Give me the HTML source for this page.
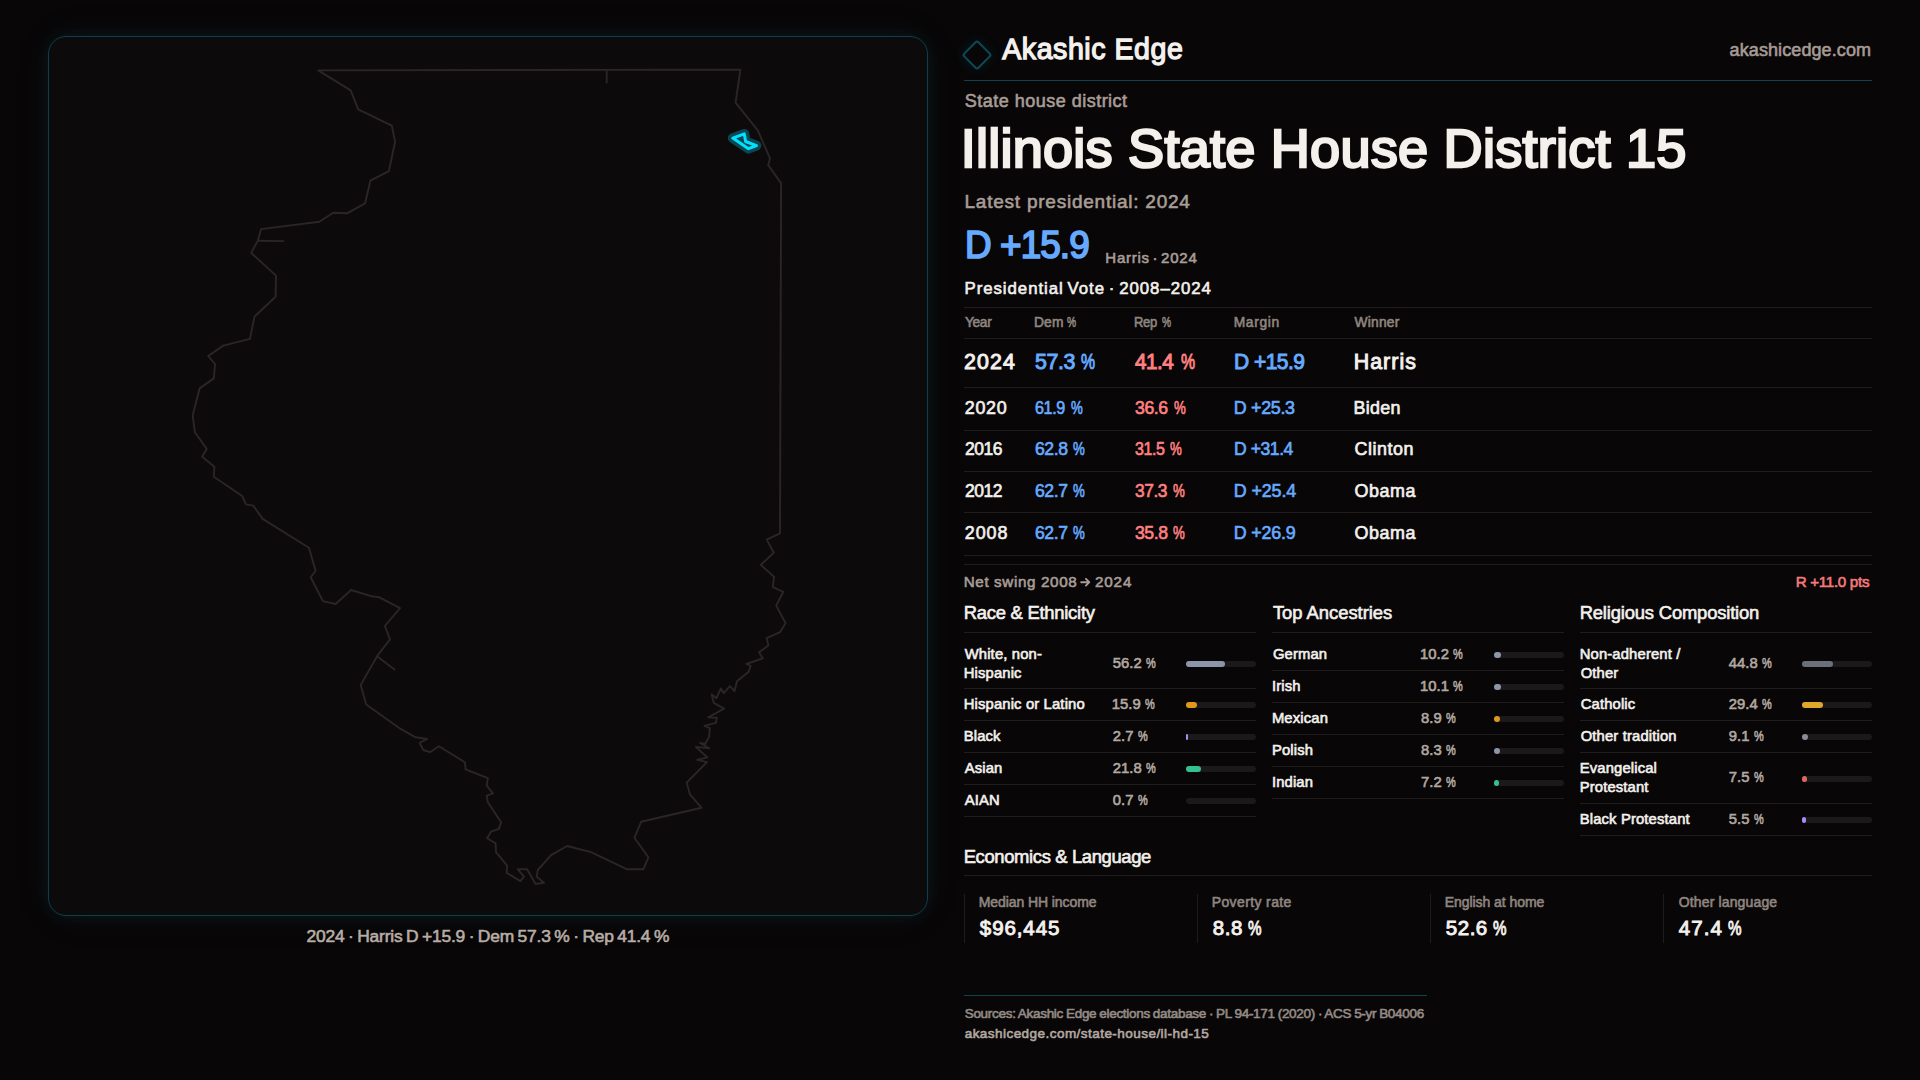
<!DOCTYPE html>
<html><head><meta charset="utf-8"><title>Illinois State House District 15</title>
<style>
html,body{margin:0;padding:0;width:1920px;height:1080px;overflow:hidden;background:#080607;}
body{position:relative;font-family:"Liberation Sans",sans-serif;}
.t{position:absolute;white-space:nowrap;}
.r{position:absolute;}
.panel{position:absolute;left:48px;top:36px;width:880px;height:880px;box-sizing:border-box;border:1px solid #0a414d;border-radius:18px;background:#0c0a0b;box-shadow:0 0 16px rgba(40,170,200,0.10),0 0 40px rgba(90,130,140,0.07);}
.map{position:absolute;left:0;top:0;}
.logo{position:absolute;left:966.3px;top:43.9px;width:22px;height:22px;box-sizing:border-box;border:2px solid #0b4a57;border-radius:3px;transform:rotate(45deg);box-shadow:0 0 14px rgba(0,180,220,0.12);}
</style></head><body>
<div class="panel"></div>
<svg class="map" width="1920" height="1080" viewBox="0 0 1920 1080">
<path d="M318.2 70.4 L740.4 69.6 L735.6 102.7 L757.8 130.4 L770.0 158.4 L768.2 165.1 L781.1 183.3 L780.0 533.3 L766.7 539.6 L773.8 552.7 L760.7 564.9 L774.0 576.7 L772.9 587.1 L783.3 591.8 L776.2 605.6 L785.6 623.3 L780.0 632.2 L766.7 638.2 L768.4 645.4 L759.0 652.3 L762.7 658.4 L746.3 664.0 L750.6 665.9 L748.7 671.7 L737.0 681.2 L734.4 691.2 L729.9 686.0 L723.8 693.1 L720.8 688.6 L716.3 698.3 L711.7 694.4 L713.7 702.8 L724.1 708.7 L708.2 717.4 L716.9 717.7 L716.0 722.9 L704.4 725.8 L709.8 728.1 L709.2 736.5 L705.3 743.7 L700.1 743.0 L709.2 748.2 L695.8 746.9 L707.2 757.3 L697.2 759.9 L707.0 762.1 L686.7 782.7 L690.0 794.4 L701.6 807.8 L641.1 821.8 L634.4 837.8 L648.4 857.3 L643.3 869.3 L627.1 869.3 L591.1 852.2 L567.1 846.0 L551.1 855.1 L537.8 870.0 L536.7 876.7 L544.0 882.7 L535.6 884.0 L527.1 869.3 L517.8 869.3 L524.0 876.7 L520.4 881.1 L506.7 872.9 L507.1 865.6 L496.0 852.2 L495.6 843.3 L487.1 838.2 L491.1 831.6 L498.9 828.9 L501.1 822.2 L487.8 802.2 L486.7 795.6 L492.9 793.3 L486.7 785.6 L487.8 778.2 L465.6 769.3 L464.9 762.2 L438.9 746.2 L430.0 752.2 L423.3 750.0 L419.6 742.9 L427.1 738.9 L415.6 737.3 L398.9 727.8 L366.2 704.4 L360.7 684.9 L377.1 656.2 L390.0 639.3 L384.9 626.0 L400.0 608.2 L378.9 597.1 L371.1 596.2 L351.1 590.0 L335.6 604.0 L322.9 601.1 L310.7 577.3 L315.6 570.7 L308.9 547.8 L262.7 518.9 L253.3 505.6 L246.0 504.4 L242.2 496.0 L213.8 476.7 L214.4 466.7 L202.2 456.7 L206.7 448.9 L194.9 432.2 L192.7 415.6 L199.6 388.4 L213.8 378.4 L215.1 364.0 L208.2 356.0 L223.3 345.6 L250.0 338.9 L254.4 316.7 L275.6 296.7 L276.0 275.6 L251.1 252.9 L257.8 240.7 L261.1 229.1 L319.3 221.8 L333.3 212.7 L347.1 213.3 L365.1 203.3 L370.4 180.7 L388.9 171.1 L395.1 141.8 L391.8 125.6 L358.2 109.3 L350.7 90.4 Z" fill="none" stroke="#2b2625" stroke-width="1.9" stroke-linejoin="round"/>
<path d="M257.8 240.7 L284.0 241.1" fill="none" stroke="#2b2625" stroke-width="1.9"/><path d="M606.7 70.4 L606.7 83.3" fill="none" stroke="#2b2625" stroke-width="1.9"/><path d="M377.1 656.2 L395.1 670.0" fill="none" stroke="#2b2625" stroke-width="1.9"/>
<path d="M732.8 138.1 L744.3 133.9 L745.6 141.5 L756.5 145.6 L748.5 148.7 Z" fill="none" stroke="#0a4552" stroke-width="10" stroke-linejoin="round"/>
<path d="M732.8 138.1 L744.3 133.9 L745.6 141.5 L756.5 145.6 L748.5 148.7 Z" fill="#0a4552" stroke="#00e1ff" stroke-width="3" stroke-linejoin="round"/>
<path d="M1081.2 582.2 H1089.2 M1085.9 578.8 L1089.3 582.2 L1085.9 585.6" fill="none" stroke="#a89d96" stroke-width="1.9" stroke-linecap="round" stroke-linejoin="round"/>
</svg>
<div class="logo"></div>
<div class="r" style="left:964px;top:80px;width:908px;height:1px;background:#0c4450"></div>
<div class="r" style="left:964px;top:307px;width:908px;height:1px;background:#1f1c1d"></div><div class="r" style="left:964px;top:338px;width:908px;height:1px;background:#1f1c1d"></div><div class="r" style="left:964px;top:387px;width:908px;height:1px;background:#1f1c1d"></div><div class="r" style="left:964px;top:430px;width:908px;height:1px;background:#1f1c1d"></div><div class="r" style="left:964px;top:471px;width:908px;height:1px;background:#1f1c1d"></div><div class="r" style="left:964px;top:512px;width:908px;height:1px;background:#1f1c1d"></div><div class="r" style="left:964px;top:555px;width:908px;height:1px;background:#1f1c1d"></div><div class="r" style="left:964px;top:564px;width:908px;height:1px;background:#1f1c1d"></div>
<div class="r" style="left:964.00px;top:632.00px;width:292.00px;height:1.00px;background:#1f1c1d;border-radius:0px"></div><div class="r" style="left:1186.00px;top:660.90px;width:70.00px;height:6.00px;background:#1b191a;border-radius:3px"></div><div class="r" style="left:1186.00px;top:660.90px;width:39.34px;height:6.00px;background:#8c96a8;border-radius:3px"></div><div class="r" style="left:964.00px;top:688.00px;width:292.00px;height:1.00px;background:#1f1c1d;border-radius:0px"></div><div class="r" style="left:1186.00px;top:702.20px;width:70.00px;height:6.00px;background:#1b191a;border-radius:3px"></div><div class="r" style="left:1186.00px;top:702.20px;width:11.13px;height:6.00px;background:#e0981c;border-radius:3px"></div><div class="r" style="left:964.00px;top:720.00px;width:292.00px;height:1.00px;background:#1f1c1d;border-radius:0px"></div><div class="r" style="left:1186.00px;top:734.20px;width:70.00px;height:6.00px;background:#1b191a;border-radius:3px"></div><div class="r" style="left:1186.00px;top:734.20px;width:1.89px;height:6.00px;background:#a58cff;border-radius:3px"></div><div class="r" style="left:964.00px;top:752.00px;width:292.00px;height:1.00px;background:#1f1c1d;border-radius:0px"></div><div class="r" style="left:1186.00px;top:766.20px;width:70.00px;height:6.00px;background:#1b191a;border-radius:3px"></div><div class="r" style="left:1186.00px;top:766.20px;width:15.26px;height:6.00px;background:#35c090;border-radius:3px"></div><div class="r" style="left:964.00px;top:784.00px;width:292.00px;height:1.00px;background:#1f1c1d;border-radius:0px"></div><div class="r" style="left:1186.00px;top:798.20px;width:70.00px;height:6.00px;background:#1b191a;border-radius:3px"></div><div class="r" style="left:964.00px;top:816.00px;width:292.00px;height:1.00px;background:#1f1c1d;border-radius:0px"></div><div class="r" style="left:1272.20px;top:632.00px;width:292.00px;height:1.00px;background:#1f1c1d;border-radius:0px"></div><div class="r" style="left:1494.20px;top:651.60px;width:70.00px;height:6.00px;background:#1b191a;border-radius:3px"></div><div class="r" style="left:1494.20px;top:651.60px;width:7.14px;height:6.00px;background:#8c96a8;border-radius:3px"></div><div class="r" style="left:1272.20px;top:670.00px;width:292.00px;height:1.00px;background:#1f1c1d;border-radius:0px"></div><div class="r" style="left:1494.20px;top:683.60px;width:70.00px;height:6.00px;background:#1b191a;border-radius:3px"></div><div class="r" style="left:1494.20px;top:683.60px;width:7.07px;height:6.00px;background:#8c96a8;border-radius:3px"></div><div class="r" style="left:1272.20px;top:702.00px;width:292.00px;height:1.00px;background:#1f1c1d;border-radius:0px"></div><div class="r" style="left:1494.20px;top:715.60px;width:70.00px;height:6.00px;background:#1b191a;border-radius:3px"></div><div class="r" style="left:1494.20px;top:715.60px;width:6.23px;height:6.00px;background:#e0981c;border-radius:3px"></div><div class="r" style="left:1272.20px;top:734.00px;width:292.00px;height:1.00px;background:#1f1c1d;border-radius:0px"></div><div class="r" style="left:1494.20px;top:747.60px;width:70.00px;height:6.00px;background:#1b191a;border-radius:3px"></div><div class="r" style="left:1494.20px;top:747.60px;width:5.81px;height:6.00px;background:#8c96a8;border-radius:3px"></div><div class="r" style="left:1272.20px;top:766.00px;width:292.00px;height:1.00px;background:#1f1c1d;border-radius:0px"></div><div class="r" style="left:1494.20px;top:779.60px;width:70.00px;height:6.00px;background:#1b191a;border-radius:3px"></div><div class="r" style="left:1494.20px;top:779.60px;width:5.04px;height:6.00px;background:#35c090;border-radius:3px"></div><div class="r" style="left:1272.20px;top:798.00px;width:292.00px;height:1.00px;background:#1f1c1d;border-radius:0px"></div><div class="r" style="left:1580.00px;top:632.00px;width:292.00px;height:1.00px;background:#1f1c1d;border-radius:0px"></div><div class="r" style="left:1802.00px;top:660.90px;width:70.00px;height:6.00px;background:#1b191a;border-radius:3px"></div><div class="r" style="left:1802.00px;top:660.90px;width:31.36px;height:6.00px;background:#6b6f7a;border-radius:3px"></div><div class="r" style="left:1580.00px;top:688.00px;width:292.00px;height:1.00px;background:#1f1c1d;border-radius:0px"></div><div class="r" style="left:1802.00px;top:702.20px;width:70.00px;height:6.00px;background:#1b191a;border-radius:3px"></div><div class="r" style="left:1802.00px;top:702.20px;width:20.58px;height:6.00px;background:#e0a82a;border-radius:3px"></div><div class="r" style="left:1580.00px;top:720.00px;width:292.00px;height:1.00px;background:#1f1c1d;border-radius:0px"></div><div class="r" style="left:1802.00px;top:734.20px;width:70.00px;height:6.00px;background:#1b191a;border-radius:3px"></div><div class="r" style="left:1802.00px;top:734.20px;width:6.37px;height:6.00px;background:#8a8d96;border-radius:3px"></div><div class="r" style="left:1580.00px;top:752.00px;width:292.00px;height:1.00px;background:#1f1c1d;border-radius:0px"></div><div class="r" style="left:1802.00px;top:775.50px;width:70.00px;height:6.00px;background:#1b191a;border-radius:3px"></div><div class="r" style="left:1802.00px;top:775.50px;width:5.25px;height:6.00px;background:#e06666;border-radius:3px"></div><div class="r" style="left:1580.00px;top:803.00px;width:292.00px;height:1.00px;background:#1f1c1d;border-radius:0px"></div><div class="r" style="left:1802.00px;top:816.80px;width:70.00px;height:6.00px;background:#1b191a;border-radius:3px"></div><div class="r" style="left:1802.00px;top:816.80px;width:3.85px;height:6.00px;background:#a58cff;border-radius:3px"></div><div class="r" style="left:1580.00px;top:835.00px;width:292.00px;height:1.00px;background:#1f1c1d;border-radius:0px"></div><div class="r" style="left:964.00px;top:875.00px;width:908.00px;height:1.00px;background:#1f1c1d;border-radius:0px"></div><div class="r" style="left:964.00px;top:894.00px;width:1.00px;height:48.50px;background:#1f1c1d;border-radius:0px"></div><div class="r" style="left:1197.00px;top:894.00px;width:1.00px;height:48.50px;background:#1f1c1d;border-radius:0px"></div><div class="r" style="left:1430.00px;top:894.00px;width:1.00px;height:48.50px;background:#1f1c1d;border-radius:0px"></div><div class="r" style="left:1663.00px;top:894.00px;width:1.00px;height:48.50px;background:#1f1c1d;border-radius:0px"></div><div class="r" style="left:964.00px;top:995.00px;width:462.60px;height:1.00px;background:#0c4450;border-radius:0px"></div>
<div class="t" style="left:1002.25px;top:35px;font-size:28.57px;line-height:28.57px;font-weight:400;color:#f4f1ed;letter-spacing:0.540px;-webkit-text-stroke:1.29px #f4f1ed;">Akashic Edge</div><div class="t" style="left:1729.60px;top:41px;font-size:18px;line-height:18px;font-weight:400;color:#a69b94;letter-spacing:0.094px;-webkit-text-stroke:0.60px #a69b94;">akashicedge.com</div><div class="t" style="left:964.70px;top:92px;font-size:18px;line-height:18px;font-weight:400;color:#a89d96;letter-spacing:0.491px;-webkit-text-stroke:0.60px #a89d96;">State house district</div><div class="t" style="left:960.72px;top:121px;font-size:54.15px;line-height:54.15px;font-weight:400;color:#f4f1ed;letter-spacing:0.210px;-webkit-text-stroke:2.44px #f4f1ed;">Illinois State House District 15</div><div class="t" style="left:964.50px;top:192px;font-size:19px;line-height:19px;font-weight:400;color:#a89d96;letter-spacing:0.764px;-webkit-text-stroke:0.60px #a89d96;">Latest presidential: 2024</div><div class="t" style="left:964.87px;top:226px;font-size:38.64px;line-height:38.64px;font-weight:400;color:#66aaff;letter-spacing:-0.966px;-webkit-text-stroke:1.74px #66aaff;transform:scaleX(0.9553);transform-origin:0 0;">D +15.9</div><div class="t" style="left:1105.30px;top:250px;font-size:15px;line-height:15px;font-weight:400;color:#a89d96;letter-spacing:0.762px;-webkit-text-stroke:0.60px #a89d96;word-spacing:-2.20px;">Harris · 2024</div><div class="t" style="left:964.50px;top:281px;font-size:16.8px;line-height:16.8px;font-weight:400;color:#f4f1ed;letter-spacing:0.964px;-webkit-text-stroke:0.60px #f4f1ed;word-spacing:-1.80px;">Presidential Vote · 2008–2024</div><div class="t" style="left:964.70px;top:316px;font-size:13.8px;line-height:13.8px;font-weight:400;color:#8f857f;letter-spacing:-0.345px;-webkit-text-stroke:0.60px #8f857f;transform:scaleX(0.9947);transform-origin:0 0;">Year</div><div class="t" style="left:1033.90px;top:316px;font-size:13.8px;line-height:13.8px;font-weight:400;color:#8f857f;letter-spacing:0.229px;-webkit-text-stroke:0.60px #8f857f;">Dem</div><div class="t" style="left:1067.24px;top:316px;font-size:13.8px;line-height:13.8px;font-weight:400;color:#8f857f;letter-spacing:0.000px;-webkit-text-stroke:0.60px #8f857f;transform:scaleX(0.7400);transform-origin:0 0;">%</div><div class="t" style="left:1134.04px;top:316px;font-size:13.8px;line-height:13.8px;font-weight:400;color:#8f857f;letter-spacing:-0.345px;-webkit-text-stroke:0.60px #8f857f;transform:scaleX(0.9408);transform-origin:0 0;">Rep</div><div class="t" style="left:1161.74px;top:316px;font-size:13.8px;line-height:13.8px;font-weight:400;color:#8f857f;letter-spacing:0.000px;-webkit-text-stroke:0.60px #8f857f;transform:scaleX(0.7400);transform-origin:0 0;">%</div><div class="t" style="left:1233.70px;top:316px;font-size:13.8px;line-height:13.8px;font-weight:400;color:#8f857f;letter-spacing:0.680px;-webkit-text-stroke:0.60px #8f857f;">Margin</div><div class="t" style="left:1354.50px;top:316px;font-size:13.8px;line-height:13.8px;font-weight:400;color:#8f857f;letter-spacing:0.219px;-webkit-text-stroke:0.60px #8f857f;">Winner</div><div class="t" style="left:963.88px;top:352px;font-size:21.36px;line-height:21.36px;font-weight:400;color:#f4f1ed;letter-spacing:1.168px;-webkit-text-stroke:0.96px #f4f1ed;">2024</div><div class="t" style="left:1035.08px;top:352px;font-size:21.4px;line-height:21.4px;font-weight:400;color:#66aaff;letter-spacing:-0.445px;-webkit-text-stroke:0.96px #66aaff;">57.3</div><div class="t" style="left:1081.10px;top:352px;font-size:21.4px;line-height:21.4px;font-weight:400;color:#66aaff;letter-spacing:0.000px;-webkit-text-stroke:0.96px #66aaff;transform:scaleX(0.7400);transform-origin:0 0;">%</div><div class="t" style="left:1135.16px;top:352px;font-size:21.4px;line-height:21.4px;font-weight:400;color:#ff8080;letter-spacing:-0.535px;-webkit-text-stroke:0.96px #ff8080;transform:scaleX(0.9652);transform-origin:0 0;">41.4</div><div class="t" style="left:1180.50px;top:352px;font-size:21.4px;line-height:21.4px;font-weight:400;color:#ff8080;letter-spacing:0.000px;-webkit-text-stroke:0.96px #ff8080;transform:scaleX(0.7400);transform-origin:0 0;">%</div><div class="t" style="left:1233.89px;top:352px;font-size:21.36px;line-height:21.36px;font-weight:400;color:#66aaff;letter-spacing:-0.534px;-webkit-text-stroke:0.96px #66aaff;transform:scaleX(0.9820);transform-origin:0 0;">D +15.9</div><div class="t" style="left:1353.68px;top:352px;font-size:21.36px;line-height:21.36px;font-weight:400;color:#f4f1ed;letter-spacing:1.073px;-webkit-text-stroke:0.96px #f4f1ed;">Harris</div><div class="t" style="left:964.73px;top:400px;font-size:17.9px;line-height:17.9px;font-weight:400;color:#f4f1ed;letter-spacing:0.733px;-webkit-text-stroke:0.65px #f4f1ed;">2020</div><div class="t" style="left:1034.89px;top:400px;font-size:17.9px;line-height:17.9px;font-weight:400;color:#66aaff;letter-spacing:-0.448px;-webkit-text-stroke:0.65px #66aaff;transform:scaleX(0.9020);transform-origin:0 0;">61.9</div><div class="t" style="left:1070.50px;top:400px;font-size:17.9px;line-height:17.9px;font-weight:400;color:#66aaff;letter-spacing:0.000px;-webkit-text-stroke:0.65px #66aaff;transform:scaleX(0.7400);transform-origin:0 0;">%</div><div class="t" style="left:1135.02px;top:400px;font-size:17.9px;line-height:17.9px;font-weight:400;color:#ff8080;letter-spacing:-0.448px;-webkit-text-stroke:0.65px #ff8080;transform:scaleX(0.9868);transform-origin:0 0;">36.6</div><div class="t" style="left:1173.50px;top:400px;font-size:17.9px;line-height:17.9px;font-weight:400;color:#ff8080;letter-spacing:0.000px;-webkit-text-stroke:0.65px #ff8080;transform:scaleX(0.7400);transform-origin:0 0;">%</div><div class="t" style="left:1233.73px;top:400px;font-size:17.9px;line-height:17.9px;font-weight:400;color:#66aaff;letter-spacing:-0.310px;-webkit-text-stroke:0.65px #66aaff;">D +25.3</div><div class="t" style="left:1353.53px;top:400px;font-size:17.9px;line-height:17.9px;font-weight:400;color:#f4f1ed;letter-spacing:0.311px;-webkit-text-stroke:0.65px #f4f1ed;">Biden</div><div class="t" style="left:964.72px;top:441px;font-size:17.9px;line-height:17.9px;font-weight:400;color:#f4f1ed;letter-spacing:-0.448px;-webkit-text-stroke:0.65px #f4f1ed;transform:scaleX(0.9756);transform-origin:0 0;">2016</div><div class="t" style="left:1034.92px;top:441px;font-size:17.9px;line-height:17.9px;font-weight:400;color:#66aaff;letter-spacing:-0.448px;-webkit-text-stroke:0.65px #66aaff;transform:scaleX(0.9839);transform-origin:0 0;">62.8</div><div class="t" style="left:1073.30px;top:441px;font-size:17.9px;line-height:17.9px;font-weight:400;color:#66aaff;letter-spacing:0.000px;-webkit-text-stroke:0.65px #66aaff;transform:scaleX(0.7400);transform-origin:0 0;">%</div><div class="t" style="left:1134.99px;top:441px;font-size:17.9px;line-height:17.9px;font-weight:400;color:#ff8080;letter-spacing:-0.448px;-webkit-text-stroke:0.65px #ff8080;transform:scaleX(0.8932);transform-origin:0 0;">31.5</div><div class="t" style="left:1170.30px;top:441px;font-size:17.9px;line-height:17.9px;font-weight:400;color:#ff8080;letter-spacing:0.000px;-webkit-text-stroke:0.65px #ff8080;transform:scaleX(0.7400);transform-origin:0 0;">%</div><div class="t" style="left:1233.74px;top:441px;font-size:17.9px;line-height:17.9px;font-weight:400;color:#66aaff;letter-spacing:-0.448px;-webkit-text-stroke:0.65px #66aaff;transform:scaleX(0.9822);transform-origin:0 0;">D +31.4</div><div class="t" style="left:1354.53px;top:441px;font-size:17.9px;line-height:17.9px;font-weight:400;color:#f4f1ed;letter-spacing:0.535px;-webkit-text-stroke:0.65px #f4f1ed;">Clinton</div><div class="t" style="left:964.72px;top:483px;font-size:17.9px;line-height:17.9px;font-weight:400;color:#f4f1ed;letter-spacing:-0.448px;-webkit-text-stroke:0.65px #f4f1ed;transform:scaleX(0.9756);transform-origin:0 0;">2012</div><div class="t" style="left:1034.92px;top:483px;font-size:17.9px;line-height:17.9px;font-weight:400;color:#66aaff;letter-spacing:-0.448px;-webkit-text-stroke:0.65px #66aaff;transform:scaleX(0.9839);transform-origin:0 0;">62.7</div><div class="t" style="left:1073.30px;top:483px;font-size:17.9px;line-height:17.9px;font-weight:400;color:#66aaff;letter-spacing:0.000px;-webkit-text-stroke:0.65px #66aaff;transform:scaleX(0.7400);transform-origin:0 0;">%</div><div class="t" style="left:1135.02px;top:483px;font-size:17.9px;line-height:17.9px;font-weight:400;color:#ff8080;letter-spacing:-0.448px;-webkit-text-stroke:0.65px #ff8080;transform:scaleX(0.9693);transform-origin:0 0;">37.3</div><div class="t" style="left:1172.90px;top:483px;font-size:17.9px;line-height:17.9px;font-weight:400;color:#ff8080;letter-spacing:0.000px;-webkit-text-stroke:0.65px #ff8080;transform:scaleX(0.7400);transform-origin:0 0;">%</div><div class="t" style="left:1233.73px;top:483px;font-size:17.9px;line-height:17.9px;font-weight:400;color:#66aaff;letter-spacing:-0.110px;-webkit-text-stroke:0.65px #66aaff;">D +25.4</div><div class="t" style="left:1354.53px;top:483px;font-size:17.9px;line-height:17.9px;font-weight:400;color:#f4f1ed;letter-spacing:0.583px;-webkit-text-stroke:0.65px #f4f1ed;">Obama</div><div class="t" style="left:964.73px;top:525px;font-size:17.9px;line-height:17.9px;font-weight:400;color:#f4f1ed;letter-spacing:0.967px;-webkit-text-stroke:0.65px #f4f1ed;">2008</div><div class="t" style="left:1034.92px;top:525px;font-size:17.9px;line-height:17.9px;font-weight:400;color:#66aaff;letter-spacing:-0.448px;-webkit-text-stroke:0.65px #66aaff;transform:scaleX(0.9839);transform-origin:0 0;">62.7</div><div class="t" style="left:1073.30px;top:525px;font-size:17.9px;line-height:17.9px;font-weight:400;color:#66aaff;letter-spacing:0.000px;-webkit-text-stroke:0.65px #66aaff;transform:scaleX(0.7400);transform-origin:0 0;">%</div><div class="t" style="left:1135.02px;top:525px;font-size:17.9px;line-height:17.9px;font-weight:400;color:#ff8080;letter-spacing:-0.448px;-webkit-text-stroke:0.65px #ff8080;transform:scaleX(0.9839);transform-origin:0 0;">35.8</div><div class="t" style="left:1173.40px;top:525px;font-size:17.9px;line-height:17.9px;font-weight:400;color:#ff8080;letter-spacing:0.000px;-webkit-text-stroke:0.65px #ff8080;transform:scaleX(0.7400);transform-origin:0 0;">%</div><div class="t" style="left:1233.73px;top:525px;font-size:17.9px;line-height:17.9px;font-weight:400;color:#66aaff;letter-spacing:-0.193px;-webkit-text-stroke:0.65px #66aaff;">D +26.9</div><div class="t" style="left:1354.53px;top:525px;font-size:17.9px;line-height:17.9px;font-weight:400;color:#f4f1ed;letter-spacing:0.583px;-webkit-text-stroke:0.65px #f4f1ed;">Obama</div><div class="t" style="left:963.70px;top:574px;font-size:15.2px;line-height:15.2px;font-weight:400;color:#a89d96;letter-spacing:0.643px;-webkit-text-stroke:0.60px #a89d96;">Net swing 2008</div><div class="t" style="left:1094.90px;top:574px;font-size:15.2px;line-height:15.2px;font-weight:400;color:#a89d96;letter-spacing:0.920px;-webkit-text-stroke:0.60px #a89d96;">2024</div><div class="t" style="left:1795.70px;top:574px;font-size:15.2px;line-height:15.2px;font-weight:400;color:#f47a7a;letter-spacing:-0.317px;-webkit-text-stroke:0.60px #f47a7a;">R +11.0 pts</div><div class="t" style="left:963.70px;top:604px;font-size:18.4px;line-height:18.4px;font-weight:400;color:#f4f1ed;letter-spacing:-0.242px;-webkit-text-stroke:0.60px #f4f1ed;">Race &amp; Ethnicity</div><div class="t" style="left:964.70px;top:647px;font-size:14.8px;line-height:14.8px;font-weight:400;color:#f4f1ed;letter-spacing:0.150px;-webkit-text-stroke:0.60px #f4f1ed;">White, non-</div><div class="t" style="left:963.70px;top:666px;font-size:14.8px;line-height:14.8px;font-weight:400;color:#f4f1ed;letter-spacing:0.150px;-webkit-text-stroke:0.60px #f4f1ed;">Hispanic</div><div class="t" style="left:1112.70px;top:656px;font-size:14.8px;line-height:14.8px;font-weight:400;color:#b3a8a1;letter-spacing:0.100px;-webkit-text-stroke:0.60px #b3a8a1;">56.2</div><div class="t" style="left:1146.09px;top:656px;font-size:14.8px;line-height:14.8px;font-weight:400;color:#b3a8a1;letter-spacing:0.000px;-webkit-text-stroke:0.60px #b3a8a1;transform:scaleX(0.7400);transform-origin:0 0;">%</div><div class="t" style="left:963.70px;top:697px;font-size:14.8px;line-height:14.8px;font-weight:400;color:#f4f1ed;letter-spacing:0.150px;-webkit-text-stroke:0.60px #f4f1ed;">Hispanic or Latino</div><div class="t" style="left:1111.70px;top:697px;font-size:14.8px;line-height:14.8px;font-weight:400;color:#b3a8a1;letter-spacing:0.100px;-webkit-text-stroke:0.60px #b3a8a1;">15.9</div><div class="t" style="left:1145.09px;top:697px;font-size:14.8px;line-height:14.8px;font-weight:400;color:#b3a8a1;letter-spacing:0.000px;-webkit-text-stroke:0.60px #b3a8a1;transform:scaleX(0.7400);transform-origin:0 0;">%</div><div class="t" style="left:963.70px;top:729px;font-size:14.8px;line-height:14.8px;font-weight:400;color:#f4f1ed;letter-spacing:0.150px;-webkit-text-stroke:0.60px #f4f1ed;">Black</div><div class="t" style="left:1112.70px;top:729px;font-size:14.8px;line-height:14.8px;font-weight:400;color:#b3a8a1;letter-spacing:0.100px;-webkit-text-stroke:0.60px #b3a8a1;">2.7</div><div class="t" style="left:1137.76px;top:729px;font-size:14.8px;line-height:14.8px;font-weight:400;color:#b3a8a1;letter-spacing:0.000px;-webkit-text-stroke:0.60px #b3a8a1;transform:scaleX(0.7400);transform-origin:0 0;">%</div><div class="t" style="left:964.70px;top:761px;font-size:14.8px;line-height:14.8px;font-weight:400;color:#f4f1ed;letter-spacing:0.150px;-webkit-text-stroke:0.60px #f4f1ed;">Asian</div><div class="t" style="left:1112.70px;top:761px;font-size:14.8px;line-height:14.8px;font-weight:400;color:#b3a8a1;letter-spacing:0.100px;-webkit-text-stroke:0.60px #b3a8a1;">21.8</div><div class="t" style="left:1146.09px;top:761px;font-size:14.8px;line-height:14.8px;font-weight:400;color:#b3a8a1;letter-spacing:0.000px;-webkit-text-stroke:0.60px #b3a8a1;transform:scaleX(0.7400);transform-origin:0 0;">%</div><div class="t" style="left:964.70px;top:793px;font-size:14.8px;line-height:14.8px;font-weight:400;color:#f4f1ed;letter-spacing:0.150px;-webkit-text-stroke:0.60px #f4f1ed;">AIAN</div><div class="t" style="left:1112.70px;top:793px;font-size:14.8px;line-height:14.8px;font-weight:400;color:#b3a8a1;letter-spacing:0.100px;-webkit-text-stroke:0.60px #b3a8a1;">0.7</div><div class="t" style="left:1137.76px;top:793px;font-size:14.8px;line-height:14.8px;font-weight:400;color:#b3a8a1;letter-spacing:0.000px;-webkit-text-stroke:0.60px #b3a8a1;transform:scaleX(0.7400);transform-origin:0 0;">%</div><div class="t" style="left:1272.90px;top:604px;font-size:18.4px;line-height:18.4px;font-weight:400;color:#f4f1ed;letter-spacing:-0.017px;-webkit-text-stroke:0.60px #f4f1ed;">Top Ancestries</div><div class="t" style="left:1272.90px;top:647px;font-size:14.8px;line-height:14.8px;font-weight:400;color:#f4f1ed;letter-spacing:0.150px;-webkit-text-stroke:0.60px #f4f1ed;">German</div><div class="t" style="left:1419.90px;top:647px;font-size:14.8px;line-height:14.8px;font-weight:400;color:#b3a8a1;letter-spacing:0.100px;-webkit-text-stroke:0.60px #b3a8a1;">10.2</div><div class="t" style="left:1453.29px;top:647px;font-size:14.8px;line-height:14.8px;font-weight:400;color:#b3a8a1;letter-spacing:0.000px;-webkit-text-stroke:0.60px #b3a8a1;transform:scaleX(0.7400);transform-origin:0 0;">%</div><div class="t" style="left:1271.90px;top:679px;font-size:14.8px;line-height:14.8px;font-weight:400;color:#f4f1ed;letter-spacing:0.150px;-webkit-text-stroke:0.60px #f4f1ed;">Irish</div><div class="t" style="left:1419.90px;top:679px;font-size:14.8px;line-height:14.8px;font-weight:400;color:#b3a8a1;letter-spacing:0.100px;-webkit-text-stroke:0.60px #b3a8a1;">10.1</div><div class="t" style="left:1453.29px;top:679px;font-size:14.8px;line-height:14.8px;font-weight:400;color:#b3a8a1;letter-spacing:0.000px;-webkit-text-stroke:0.60px #b3a8a1;transform:scaleX(0.7400);transform-origin:0 0;">%</div><div class="t" style="left:1271.90px;top:711px;font-size:14.8px;line-height:14.8px;font-weight:400;color:#f4f1ed;letter-spacing:0.150px;-webkit-text-stroke:0.60px #f4f1ed;">Mexican</div><div class="t" style="left:1420.90px;top:711px;font-size:14.8px;line-height:14.8px;font-weight:400;color:#b3a8a1;letter-spacing:0.100px;-webkit-text-stroke:0.60px #b3a8a1;">8.9</div><div class="t" style="left:1445.96px;top:711px;font-size:14.8px;line-height:14.8px;font-weight:400;color:#b3a8a1;letter-spacing:0.000px;-webkit-text-stroke:0.60px #b3a8a1;transform:scaleX(0.7400);transform-origin:0 0;">%</div><div class="t" style="left:1271.90px;top:743px;font-size:14.8px;line-height:14.8px;font-weight:400;color:#f4f1ed;letter-spacing:0.150px;-webkit-text-stroke:0.60px #f4f1ed;">Polish</div><div class="t" style="left:1420.90px;top:743px;font-size:14.8px;line-height:14.8px;font-weight:400;color:#b3a8a1;letter-spacing:0.100px;-webkit-text-stroke:0.60px #b3a8a1;">8.3</div><div class="t" style="left:1445.96px;top:743px;font-size:14.8px;line-height:14.8px;font-weight:400;color:#b3a8a1;letter-spacing:0.000px;-webkit-text-stroke:0.60px #b3a8a1;transform:scaleX(0.7400);transform-origin:0 0;">%</div><div class="t" style="left:1271.90px;top:775px;font-size:14.8px;line-height:14.8px;font-weight:400;color:#f4f1ed;letter-spacing:0.150px;-webkit-text-stroke:0.60px #f4f1ed;">Indian</div><div class="t" style="left:1420.90px;top:775px;font-size:14.8px;line-height:14.8px;font-weight:400;color:#b3a8a1;letter-spacing:0.100px;-webkit-text-stroke:0.60px #b3a8a1;">7.2</div><div class="t" style="left:1445.96px;top:775px;font-size:14.8px;line-height:14.8px;font-weight:400;color:#b3a8a1;letter-spacing:0.000px;-webkit-text-stroke:0.60px #b3a8a1;transform:scaleX(0.7400);transform-origin:0 0;">%</div><div class="t" style="left:1579.70px;top:604px;font-size:18.4px;line-height:18.4px;font-weight:400;color:#f4f1ed;letter-spacing:-0.167px;-webkit-text-stroke:0.60px #f4f1ed;">Religious Composition</div><div class="t" style="left:1579.70px;top:647px;font-size:14.8px;line-height:14.8px;font-weight:400;color:#f4f1ed;letter-spacing:0.150px;-webkit-text-stroke:0.60px #f4f1ed;">Non-adherent /</div><div class="t" style="left:1580.70px;top:666px;font-size:14.8px;line-height:14.8px;font-weight:400;color:#f4f1ed;letter-spacing:0.150px;-webkit-text-stroke:0.60px #f4f1ed;">Other</div><div class="t" style="left:1728.70px;top:656px;font-size:14.8px;line-height:14.8px;font-weight:400;color:#b3a8a1;letter-spacing:0.100px;-webkit-text-stroke:0.60px #b3a8a1;">44.8</div><div class="t" style="left:1762.09px;top:656px;font-size:14.8px;line-height:14.8px;font-weight:400;color:#b3a8a1;letter-spacing:0.000px;-webkit-text-stroke:0.60px #b3a8a1;transform:scaleX(0.7400);transform-origin:0 0;">%</div><div class="t" style="left:1580.70px;top:697px;font-size:14.8px;line-height:14.8px;font-weight:400;color:#f4f1ed;letter-spacing:0.150px;-webkit-text-stroke:0.60px #f4f1ed;">Catholic</div><div class="t" style="left:1728.70px;top:697px;font-size:14.8px;line-height:14.8px;font-weight:400;color:#b3a8a1;letter-spacing:0.100px;-webkit-text-stroke:0.60px #b3a8a1;">29.4</div><div class="t" style="left:1762.09px;top:697px;font-size:14.8px;line-height:14.8px;font-weight:400;color:#b3a8a1;letter-spacing:0.000px;-webkit-text-stroke:0.60px #b3a8a1;transform:scaleX(0.7400);transform-origin:0 0;">%</div><div class="t" style="left:1580.70px;top:729px;font-size:14.8px;line-height:14.8px;font-weight:400;color:#f4f1ed;letter-spacing:0.150px;-webkit-text-stroke:0.60px #f4f1ed;">Other tradition</div><div class="t" style="left:1728.70px;top:729px;font-size:14.8px;line-height:14.8px;font-weight:400;color:#b3a8a1;letter-spacing:0.100px;-webkit-text-stroke:0.60px #b3a8a1;">9.1</div><div class="t" style="left:1753.76px;top:729px;font-size:14.8px;line-height:14.8px;font-weight:400;color:#b3a8a1;letter-spacing:0.000px;-webkit-text-stroke:0.60px #b3a8a1;transform:scaleX(0.7400);transform-origin:0 0;">%</div><div class="t" style="left:1579.70px;top:761px;font-size:14.8px;line-height:14.8px;font-weight:400;color:#f4f1ed;letter-spacing:0.150px;-webkit-text-stroke:0.60px #f4f1ed;">Evangelical</div><div class="t" style="left:1579.70px;top:780px;font-size:14.8px;line-height:14.8px;font-weight:400;color:#f4f1ed;letter-spacing:0.150px;-webkit-text-stroke:0.60px #f4f1ed;">Protestant</div><div class="t" style="left:1728.70px;top:770px;font-size:14.8px;line-height:14.8px;font-weight:400;color:#b3a8a1;letter-spacing:0.100px;-webkit-text-stroke:0.60px #b3a8a1;">7.5</div><div class="t" style="left:1753.76px;top:770px;font-size:14.8px;line-height:14.8px;font-weight:400;color:#b3a8a1;letter-spacing:0.000px;-webkit-text-stroke:0.60px #b3a8a1;transform:scaleX(0.7400);transform-origin:0 0;">%</div><div class="t" style="left:1579.70px;top:812px;font-size:14.8px;line-height:14.8px;font-weight:400;color:#f4f1ed;letter-spacing:0.150px;-webkit-text-stroke:0.60px #f4f1ed;">Black Protestant</div><div class="t" style="left:1728.70px;top:812px;font-size:14.8px;line-height:14.8px;font-weight:400;color:#b3a8a1;letter-spacing:0.100px;-webkit-text-stroke:0.60px #b3a8a1;">5.5</div><div class="t" style="left:1753.76px;top:812px;font-size:14.8px;line-height:14.8px;font-weight:400;color:#b3a8a1;letter-spacing:0.000px;-webkit-text-stroke:0.60px #b3a8a1;transform:scaleX(0.7400);transform-origin:0 0;">%</div><div class="t" style="left:963.70px;top:848px;font-size:18.4px;line-height:18.4px;font-weight:400;color:#f4f1ed;letter-spacing:-0.349px;-webkit-text-stroke:0.60px #f4f1ed;">Economics &amp; Language</div><div class="t" style="left:978.70px;top:895px;font-size:14px;line-height:14px;font-weight:400;color:#8f857f;letter-spacing:-0.077px;-webkit-text-stroke:0.60px #8f857f;">Median HH income</div><div class="t" style="left:979.86px;top:918px;font-size:20.54px;line-height:20.54px;font-weight:400;color:#f4f1ed;letter-spacing:0.881px;-webkit-text-stroke:0.92px #f4f1ed;">$96,445</div><div class="t" style="left:1211.70px;top:895px;font-size:14px;line-height:14px;font-weight:400;color:#8f857f;letter-spacing:0.383px;-webkit-text-stroke:0.60px #8f857f;">Poverty rate</div><div class="t" style="left:1212.86px;top:918px;font-size:20.5px;line-height:20.5px;font-weight:400;color:#f4f1ed;letter-spacing:0.564px;-webkit-text-stroke:0.92px #f4f1ed;">8.8</div><div class="t" style="left:1248.42px;top:918px;font-size:20.5px;line-height:20.5px;font-weight:400;color:#f4f1ed;letter-spacing:0.000px;-webkit-text-stroke:0.92px #f4f1ed;transform:scaleX(0.7400);transform-origin:0 0;">%</div><div class="t" style="left:1444.70px;top:895px;font-size:14px;line-height:14px;font-weight:400;color:#8f857f;letter-spacing:-0.050px;-webkit-text-stroke:0.60px #8f857f;">English at home</div><div class="t" style="left:1445.86px;top:918px;font-size:20.5px;line-height:20.5px;font-weight:400;color:#f4f1ed;letter-spacing:0.492px;-webkit-text-stroke:0.92px #f4f1ed;">52.6</div><div class="t" style="left:1493.17px;top:918px;font-size:20.5px;line-height:20.5px;font-weight:400;color:#f4f1ed;letter-spacing:0.000px;-webkit-text-stroke:0.92px #f4f1ed;transform:scaleX(0.7400);transform-origin:0 0;">%</div><div class="t" style="left:1678.70px;top:895px;font-size:14px;line-height:14px;font-weight:400;color:#8f857f;letter-spacing:0.148px;-webkit-text-stroke:0.60px #8f857f;">Other language</div><div class="t" style="left:1678.86px;top:918px;font-size:20.5px;line-height:20.5px;font-weight:400;color:#f4f1ed;letter-spacing:1.076px;-webkit-text-stroke:0.92px #f4f1ed;">47.4</div><div class="t" style="left:1727.92px;top:918px;font-size:20.5px;line-height:20.5px;font-weight:400;color:#f4f1ed;letter-spacing:0.000px;-webkit-text-stroke:0.92px #f4f1ed;transform:scaleX(0.7400);transform-origin:0 0;">%</div><div class="t" style="left:964.70px;top:1007px;font-size:13.5px;line-height:13.5px;font-weight:400;color:#958b85;letter-spacing:-0.296px;-webkit-text-stroke:0.60px #958b85;word-spacing:-0.50px;">Sources: Akashic Edge elections database · PL 94-171 (2020) · ACS 5-yr B04006</div><div class="t" style="left:964.70px;top:1027px;font-size:13.5px;line-height:13.5px;font-weight:400;color:#b3a8a1;letter-spacing:0.457px;-webkit-text-stroke:0.60px #b3a8a1;">akashicedge.com/state-house/il-hd-15</div><div class="t" style="left:306.55px;top:928px;font-size:17.4px;line-height:17.4px;font-weight:400;color:#b8ada6;letter-spacing:-0.203px;-webkit-text-stroke:0.60px #b8ada6;word-spacing:-1.00px;">2024 · Harris D +15.9 · Dem 57.3 % · Rep 41.4 %</div>
</body></html>
